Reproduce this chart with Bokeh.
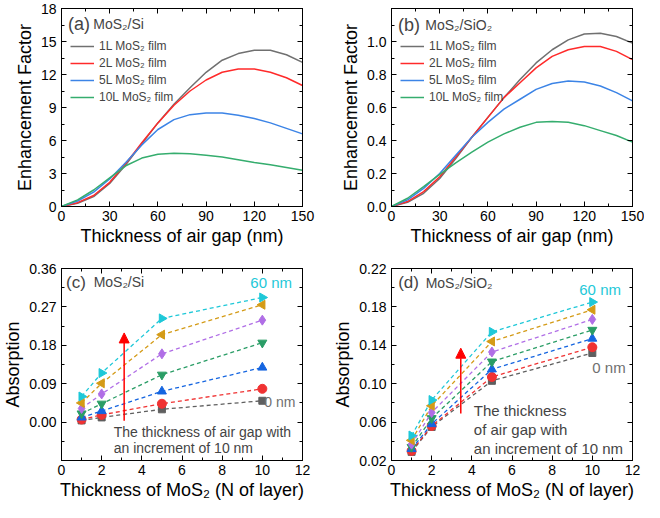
import math
from bokeh.plotting import figure
from bokeh.models import (LinearAxis, Range1d, FixedTicker, SingleIntervalTicker, Legend,
                          LegendItem, Label, Arrow, NormalHead, PrintfTickFormatter)
from bokeh.layouts import gridplot
from bokeh.embed import file_html
from bokeh.resources import INLINE

# ---------------- data ----------------
gap_nm = [0, 10, 20, 30, 40, 50, 60, 70, 80, 90, 100, 110, 120, 130, 140, 150]

ef_si_1L = [0, 0.3, 0.9, 2.1, 3.8, 5.7, 7.6, 9.3, 10.8, 12.2, 13.3, 13.9, 14.2, 14.2, 13.8, 13.1]
ef_si_2L = [0, 0.35, 1.0, 2.2, 3.9, 5.8, 7.6, 9.2, 10.5, 11.5, 12.2, 12.5, 12.5, 12.2, 11.7, 11.0]
ef_si_5L = [0, 0.5, 1.3, 2.5, 4.0, 5.6, 7.0, 7.9, 8.35, 8.5, 8.5, 8.3, 8.0, 7.6, 7.1, 6.6]
ef_si_10L = [0, 0.6, 1.5, 2.6, 3.7, 4.4, 4.75, 4.85, 4.8, 4.65, 4.5, 4.25, 4.0, 3.8, 3.55, 3.3]

ef_sio2_1L = [0, 0.025, 0.08, 0.17, 0.29, 0.42, 0.54, 0.66, 0.77, 0.87, 0.95, 1.01, 1.045, 1.05, 1.03, 0.99]
ef_sio2_2L = [0, 0.03, 0.09, 0.18, 0.30, 0.42, 0.54, 0.66, 0.75, 0.84, 0.91, 0.95, 0.97, 0.97, 0.94, 0.89]
ef_sio2_5L = [0, 0.04, 0.11, 0.20, 0.31, 0.42, 0.51, 0.59, 0.65, 0.71, 0.745, 0.76, 0.755, 0.73, 0.69, 0.64]
ef_sio2_10L = [0, 0.05, 0.12, 0.195, 0.265, 0.33, 0.39, 0.44, 0.48, 0.51, 0.515, 0.51, 0.49, 0.46, 0.43, 0.39]

film_labels = ["1L MoS₂ film", "2L MoS₂ film", "5L MoS₂ film", "10L MoS₂ film"]

layers = [1, 2, 5, 10]
air_gaps = ["0 nm", "10 nm", "20 nm", "30 nm", "40 nm", "50 nm", "60 nm"]

abs_si_0 = [0.004, 0.011, 0.030, 0.050]
abs_si_10 = [0.006, 0.017, 0.043, 0.078]
abs_si_20 = [0.011, 0.026, 0.072, 0.128]
abs_si_30 = [0.020, 0.043, 0.111, 0.186]
abs_si_40 = [0.032, 0.066, 0.160, 0.239]
abs_si_50 = [0.045, 0.091, 0.205, 0.275]
abs_si_60 = [0.060, 0.115, 0.243, 0.292]

abs_sio2_0 = [0.029, 0.055, 0.103, 0.132]
abs_sio2_10 = [0.030, 0.056, 0.107, 0.138]
abs_sio2_20 = [0.032, 0.058, 0.115, 0.147]
abs_sio2_30 = [0.034, 0.064, 0.123, 0.156]
abs_sio2_40 = [0.037, 0.070, 0.133, 0.167]
abs_sio2_50 = [0.041, 0.077, 0.144, 0.177]
abs_sio2_60 = [0.046, 0.083, 0.154, 0.185]

# ---------------- styles ----------------
FONT = "Liberation Sans"
line_colors = ["#707070", "#ff2a2a", "#3c84e6", "#35ad6e"]
mk_colors = ["#5f5f5f", "#f03232", "#1565e0", "#2a9d66", "#b06ee6", "#d49b17", "#1ec8d8"]
mk_shapes = ["square", "circle", "triangle", "inverted_triangle", "diamond", "triangle", "triangle"]
mk_angles = [0, 0, 0, 0, 0, math.pi / 2, -math.pi / 2]
mk_sizes = [7, 9, 9, 9, 10, 9, 9]


def make_fig(w, h, xr, yr, xt, yt, yfmt, xlabel, ylabel, bl, br, bt, bb):
    p = figure(width=w, height=h, x_range=Range1d(*xr), y_range=Range1d(*yr),
               output_backend="svg", toolbar_location=None,
               min_border_left=bl, min_border_right=br, min_border_top=bt, min_border_bottom=bb)
    p.grid.visible = False
    p.outline_line_color = "black"
    p.outline_line_width = 1
    p.outline_line_alpha = 1
    for ax, tk in ((p.xaxis[0], xt), (p.yaxis[0], yt)):
        ax.ticker = tk
        ax.major_tick_in = 5
        ax.major_tick_out = 0
        ax.minor_tick_in = 3
        ax.minor_tick_out = 0
        ax.major_label_text_font = FONT
        ax.major_label_text_font_size = "14px"
        ax.major_label_text_color = "black"
        ax.axis_label_text_font = FONT
        ax.axis_label_text_font_size = "18px"
        ax.axis_label_text_font_style = "normal"
        ax.axis_label_text_color = "black"
        ax.axis_line_color = "black"
        ax.major_tick_line_color = "black"
        ax.minor_tick_line_color = "black"
    p.xaxis[0].axis_label = xlabel
    p.yaxis[0].axis_label = ylabel
    p.xaxis[0].major_label_standoff = 4
    p.yaxis[0].major_label_standoff = 5
    p.xaxis[0].axis_label_standoff = 2
    p.yaxis[0].axis_label_standoff = 3
    p.yaxis[0].formatter = PrintfTickFormatter(format=yfmt)
    for loc, tk in (("right", yt), ("above", xt)):
        ax = LinearAxis(ticker=tk, major_label_text_font_size="0px", major_label_text_color=None,
                        major_tick_in=5, major_tick_out=0, minor_tick_in=3, minor_tick_out=0,
                        major_label_standoff=0, axis_line_color="black")
        p.add_layout(ax, loc)
    return p


def add_legend(p, renderers, labels, x, y):
    items = [LegendItem(label=l, renderers=[r]) for l, r in zip(labels, renderers)]
    lg = Legend(items=items, location=(x, y), background_fill_alpha=0, border_line_color=None,
                glyph_width=24, glyph_height=16, label_height=16, spacing=1, padding=0,
                margin=0, label_standoff=5, label_text_font=FONT, label_text_font_size="12px")
    p.add_layout(lg)


# ---------------- panel (a) ----------------
pa = make_fig(330, 252, (0, 150), (0, 18), SingleIntervalTicker(interval=30, num_minor_ticks=2),
              SingleIntervalTicker(interval=3, num_minor_ticks=2), "%d",
              "Thickness of air gap (nm)", "Enhancement Factor", 56, 28, 8, 46)
ra = []
for ys, c in zip([ef_si_1L, ef_si_2L, ef_si_5L, ef_si_10L], line_colors):
    ra.append(pa.line(gap_nm, ys, line_color=c, line_width=1.5))
add_legend(pa, ra, film_labels, 9, 101)
pa.add_layout(Label(x=4.1, y=16.55, text="(a)", text_font=FONT, text_font_size="18px",
                    text_baseline="middle"))
pa.add_layout(Label(x=19.8, y=16.55, text="MoS₂/Si", text_font=FONT, text_font_size="14px",
                    text_baseline="middle"))

# ---------------- panel (b) ----------------
pb = make_fig(314, 252, (0, 150), (0, 1.2), SingleIntervalTicker(interval=30, num_minor_ticks=2),
              SingleIntervalTicker(interval=0.2, num_minor_ticks=2), "%.1f",
              "Thickness of air gap (nm)", "Enhancement Factor", 56, 12, 8, 46)
rb = []
for ys, c in zip([ef_sio2_1L, ef_sio2_2L, ef_sio2_5L, ef_sio2_10L], line_colors):
    rb.append(pb.line(gap_nm, ys, line_color=c, line_width=1.5))
add_legend(pb, rb, film_labels, 9, 101)
pb.add_layout(Label(x=4.1, y=1.103, text="(b)", text_font=FONT, text_font_size="18px",
                    text_baseline="middle"))
pb.add_layout(Label(x=21.0, y=1.103, text="MoS₂/SiO₂", text_font=FONT, text_font_size="14px",
                    text_baseline="middle"))

# ---------------- panel (c) ----------------
xt_c = SingleIntervalTicker(interval=2, num_minor_ticks=2)
yt_c = FixedTicker(ticks=[0, 0.09, 0.18, 0.27, 0.36],
                   minor_ticks=[-0.045, 0.045, 0.135, 0.225, 0.315])
pc = make_fig(330, 250, (0, 12), (-0.09, 0.36), xt_c, yt_c, "%.2f",
              "Thickness of MoS₂ (N of layer)", "Absorption", 56, 28, 16, 42)
series_c = [abs_si_0, abs_si_10, abs_si_20, abs_si_30, abs_si_40, abs_si_50, abs_si_60]
for ys, c, m, a, s in zip(series_c, mk_colors, mk_shapes, mk_angles, mk_sizes):
    pc.line(layers, ys, line_color=c, line_dash="4 3", line_width=1.3)
    pc.scatter(layers, ys, marker=m, angle=a, size=s, fill_color=c, line_color=c)
pc.add_layout(Label(x=0.23, y=0.328, text="(c)", text_font=FONT, text_font_size="17px",
                    text_baseline="middle"))
pc.add_layout(Label(x=1.6, y=0.328, text="MoS₂/Si", text_font=FONT, text_font_size="14px",
                    text_baseline="middle"))
pc.add_layout(Label(x=9.4, y=0.328, text=air_gaps[-1], text_font=FONT, text_font_size="15px",
                    text_baseline="middle", text_color=mk_colors[-1]))
pc.add_layout(Label(x=10.1, y=0.046, text=air_gaps[0], text_font=FONT, text_font_size="14px",
                    text_baseline="middle", text_color="#707070"))
pc.add_layout(Arrow(end=NormalHead(size=10, fill_color="red", line_color="red"),
                    x_start=3.12, y_start=0.003, x_end=3.12, y_end=0.209,
                    line_color="red", line_width=1.5))
pc.add_layout(Label(x=2.6, y=-0.024, text="The thickness of air gap with", text_font=FONT,
                    text_font_size="14px", text_baseline="middle"))
pc.add_layout(Label(x=2.6, y=-0.060, text="an increment of 10 nm", text_font=FONT,
                    text_font_size="14px", text_baseline="middle"))

# ---------------- panel (d) ----------------
xt_d = SingleIntervalTicker(interval=2, num_minor_ticks=2)
yt_d = FixedTicker(ticks=[0.02, 0.06, 0.10, 0.14, 0.18, 0.22],
                   minor_ticks=[0.04, 0.08, 0.12, 0.16, 0.20])
pd_ = make_fig(314, 250, (0, 12), (0.02, 0.22), xt_d, yt_d, "%.2f",
               "Thickness of MoS₂ (N of layer)", "Absorption", 56, 12, 16, 42)
series_d = [abs_sio2_0, abs_sio2_10, abs_sio2_20, abs_sio2_30, abs_sio2_40, abs_sio2_50, abs_sio2_60]
for ys, c, m, a, s in zip(series_d, mk_colors, mk_shapes, mk_angles, mk_sizes):
    pd_.line(layers, ys, line_color=c, line_dash="4 3", line_width=1.3)
    pd_.scatter(layers, ys, marker=m, angle=a, size=s, fill_color=c, line_color=c)
pd_.add_layout(Label(x=0.33, y=0.205, text="(d)", text_font=FONT, text_font_size="17px",
                     text_baseline="middle"))
pd_.add_layout(Label(x=1.7, y=0.205, text="MoS₂/SiO₂", text_font=FONT, text_font_size="14px",
                     text_baseline="middle"))
pd_.add_layout(Label(x=9.35, y=0.198, text=air_gaps[-1], text_font=FONT, text_font_size="15px",
                     text_baseline="middle", text_color=mk_colors[-1]))
pd_.add_layout(Label(x=10.0, y=0.117, text=air_gaps[0], text_font=FONT, text_font_size="15px",
                     text_baseline="middle", text_color="#707070"))
pd_.add_layout(Arrow(end=NormalHead(size=10, fill_color="red", line_color="red"),
                     x_start=3.45, y_start=0.069, x_end=3.45, y_end=0.137,
                     line_color="red", line_width=1.5))
for txt, yy in (("The thickness", 0.072), ("of air gap with", 0.052), ("an increment of 10 nm", 0.033)):
    pd_.add_layout(Label(x=4.1, y=yy, text=txt, text_font=FONT, text_font_size="15px",
                         text_baseline="middle"))

grid = gridplot([[pa, pb], [pc, pd_]], toolbar_location=None)
open("out.html", "w").write(file_html(grid, INLINE))
